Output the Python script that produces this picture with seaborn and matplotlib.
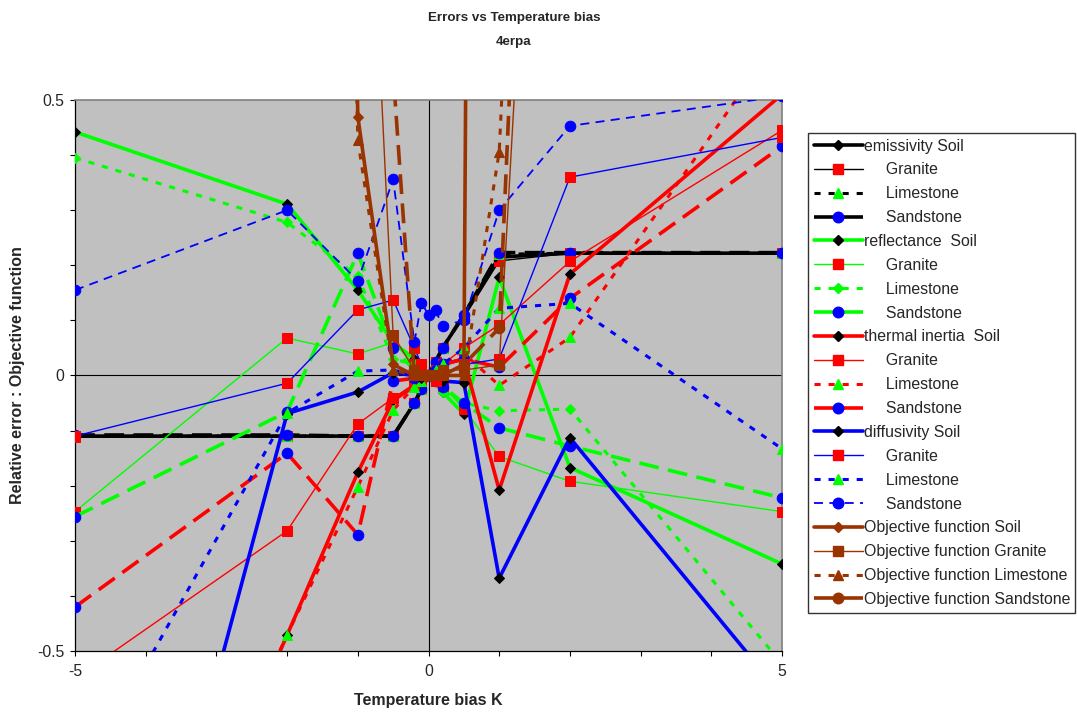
import matplotlib
matplotlib.use("Agg")
import matplotlib.pyplot as plt
import seaborn as sns
import pandas as pd
from matplotlib.lines import Line2D
from matplotlib.ticker import MultipleLocator, FixedLocator

sns.set_style("white")
plt.rcParams["font.family"] = ["Liberation Sans", "DejaVu Sans"]

# Temperature bias (K) at which every sensitivity run was evaluated
bias = [-5, -2, -1, -0.5, -0.2, -0.1, 0, 0.1, 0.2, 0.5, 1, 2, 5]

# Relative errors of the retrieved parameters
emissivity_soil = [-0.11, -0.11, -0.11, -0.11, -0.05, -0.025, 0.0, 0.025, 0.05, 0.11, 0.215, 0.222, 0.222]
emissivity_granite = [-0.112, -0.11, -0.11, -0.11, -0.05, -0.025, 0.0, 0.025, 0.05, 0.105, 0.208, 0.222, 0.222]
emissivity_limestone = [-0.11, -0.11, -0.11, -0.11, -0.05, -0.025, 0.0, 0.025, 0.05, 0.11, 0.22, 0.222, 0.222]
emissivity_sandstone = [-0.108, -0.108, -0.11, -0.11, -0.05, -0.025, 0.0, 0.025, 0.05, 0.11, 0.223, 0.223, 0.223]

reflectance_soil = [0.442, 0.311, 0.155, 0.06, 0.03, 0.01, 0.0, -0.01, -0.03, -0.07, 0.178, -0.167, -0.342]
reflectance_granite = [-0.247, 0.068, 0.039, 0.06, 0.02, 0.01, 0.0, -0.01, -0.02, -0.06, -0.147, -0.192, -0.247]
reflectance_limestone = [0.395, 0.278, 0.18, 0.03, 0.02, 0.01, 0.0, -0.01, -0.03, -0.05, -0.064, -0.061, -0.523]
reflectance_sandstone = [-0.256, -0.066, 0.222, 0.05, 0.01, 0.005, 0.0, -0.01, -0.02, -0.05, -0.095, -0.128, -0.222]

inertia_soil = [-1.36, -0.471, -0.176, -0.045, -0.02, -0.01, 0.0, 0.01, 0.02, 0.03, -0.208, 0.184, 0.51]
inertia_granite = [-0.55, -0.282, -0.088, -0.041, -0.015, -0.005, 0.0, 0.01, 0.02, 0.05, 0.092, 0.207, 0.445]
inertia_limestone = [-1.3, -0.471, -0.202, -0.063, -0.02, -0.01, 0.0, 0.01, 0.02, 0.04, -0.018, 0.069, 0.62]
inertia_sandstone = [-0.42, -0.141, -0.289, -0.01, -0.005, 0.0, 0.0, 0.01, 0.02, 0.03, 0.015, 0.14, 0.416]

diffusivity_soil = [-1.51, -0.069, -0.03, 0.005, 0.0, -0.005, 0.0, -0.005, -0.01, -0.013, -0.368, -0.113, -0.58]
diffusivity_granite = [-0.11, -0.014, 0.119, 0.137, 0.05, 0.02, 0.0, -0.01, 0.0, 0.02, 0.03, 0.36, 0.432]
diffusivity_limestone = [-0.755, -0.068, 0.008, 0.01, 0.0, 0.0, 0.0, 0.01, 0.02, 0.05, 0.122, 0.131, -0.133]
diffusivity_sandstone = [0.155, 0.3, 0.172, 0.356, 0.06, 0.132, 0.11, 0.118, 0.09, 0.1, 0.3, 0.453, 0.507]

# Objective function values (many leave the visible range)
objective_soil = [30.0, 8.0, 0.47, 0.02, 0.0, 0.0, 0.0, 0.0, 0.0, 0.0, 10.0, 20.0, 50.0]
objective_granite = [20.0, 5.0, 1.4, 0.073, 0.01, 0.0, 0.0, 0.0, 0.01, 0.01, 0.019, 2.3, 20.0]
objective_limestone = [20.0, 6.0, 0.427, 0.01, 0.0, 0.0, 0.0, 0.0, 0.0, 0.0, 0.406, 3.1, 30.0]
objective_sandstone = [20.0, 6.0, 3.0, 0.55, 0.0, 0.0, 0.0, 0.0, 0.0, 0.02, 0.086, 3.0, 30.0]

BLACK, GREEN, RED, BLUE, BROWN = "#000000", "#00FF00", "#FF0000", "#0000FF", "#993300"

THICK = dict(lw=2.6, ls="-")
THIN = dict(lw=1.0, ls="-")
SHORT = dict(lw=2.2, ls=(0, (2.0, 2.6)))
LONG = dict(lw=2.6, ls=(0, (5.5, 2.6)))
THIN_DASH = dict(lw=1.3, ls=(0, (5.0, 3.5)))

DIAMOND = dict(marker="D", ms=4.6, mfc=BLACK, mec=BLACK)
SQUARE = dict(marker="s", ms=6.8, mfc=RED, mec=RED)
TRIANGLE = dict(marker="^", ms=7.2, mfc=GREEN, mec=GREEN)
CIRCLE = dict(marker="o", ms=7.6, mfc=BLUE, mec=BLUE)
GREEN_DIAMOND = dict(marker="D", ms=5.2, mfc=GREEN, mec=GREEN)

INDENT = "     "
series = [
    ("emissivity Soil", emissivity_soil, BLACK, THICK, DIAMOND),
    (INDENT + "Granite", emissivity_granite, BLACK, THIN, SQUARE),
    (INDENT + "Limestone", emissivity_limestone, BLACK, SHORT, TRIANGLE),
    (INDENT + "Sandstone", emissivity_sandstone, BLACK, LONG, CIRCLE),
    ("reflectance  Soil", reflectance_soil, GREEN, THICK, DIAMOND),
    (INDENT + "Granite", reflectance_granite, GREEN, THIN, SQUARE),
    (INDENT + "Limestone", reflectance_limestone, GREEN, SHORT, GREEN_DIAMOND),
    (INDENT + "Sandstone", reflectance_sandstone, GREEN, LONG, CIRCLE),
    ("thermal inertia  Soil", inertia_soil, RED, THICK, DIAMOND),
    (INDENT + "Granite", inertia_granite, RED, THIN, SQUARE),
    (INDENT + "Limestone", inertia_limestone, RED, SHORT, TRIANGLE),
    (INDENT + "Sandstone", inertia_sandstone, RED, LONG, CIRCLE),
    ("diffusivity Soil", diffusivity_soil, BLUE, THICK, DIAMOND),
    (INDENT + "Granite", diffusivity_granite, BLUE, THIN, SQUARE),
    (INDENT + "Limestone", diffusivity_limestone, BLUE, SHORT, TRIANGLE),
    (INDENT + "Sandstone", diffusivity_sandstone, BLUE, THIN_DASH, CIRCLE),
    ("Objective function Soil", objective_soil, BROWN, THICK,
     dict(marker="D", ms=4.6, mfc=BROWN, mec=BROWN)),
    ("Objective function Granite", objective_granite, BROWN, THIN,
     dict(marker="s", ms=6.8, mfc=BROWN, mec=BROWN)),
    ("Objective function Limestone", objective_limestone, BROWN, SHORT,
     dict(marker="^", ms=7.2, mfc=BROWN, mec=BROWN)),
    ("Objective function Sandstone", objective_sandstone, BROWN, LONG,
     dict(marker="o", ms=7.6, mfc=BROWN, mec=BROWN)),
]

W, H = 1077, 713
fig = plt.figure(figsize=(W / 100, H / 100), dpi=100)
ax = fig.add_axes([75 / W, 1 - 651 / H, (782 - 75) / W, (651 - 100) / H])
ax.set_facecolor("#C0C0C0")

ax.axhline(0, color="black", lw=0.8, zorder=1)
ax.axvline(0, color="black", lw=0.8, zorder=1)

handles, labels = [], []
for i, (label, values, color, line, mark) in enumerate(series):
    df = pd.DataFrame({"bias": bias, "value": values})
    sns.lineplot(data=df, x="bias", y="value", ax=ax, color=color,
                 linewidth=line["lw"], linestyle=line["ls"], errorbar=None,
                 sort=False, legend=False, zorder=2 + i, **mark)
    handles.append(Line2D([], [], color=color, lw=line["lw"], ls=line["ls"], **mark))
    labels.append(label)

ax.set_xlim(-5, 5)
ax.set_ylim(-0.5, 0.5)
ax.xaxis.set_major_locator(FixedLocator([-5, 0, 5]))
ax.xaxis.set_minor_locator(MultipleLocator(1))
ax.yaxis.set_major_locator(FixedLocator([-0.5, 0, 0.5]))
ax.yaxis.set_minor_locator(MultipleLocator(0.1))
ax.set_xticklabels(["-5", "0", "5"])
ax.set_yticklabels(["-0.5", "0", "0.5"])
ax.tick_params(axis="both", which="both", direction="out", length=3.6, width=0.8,
               color="black", labelsize=11.3, bottom=True, left=True)
ax.tick_params(axis="x", which="major", pad=6)
ax.tick_params(axis="y", which="major", pad=4.3)
ax.set_xlabel("")
ax.set_ylabel("")

for side in ("left", "bottom"):
    ax.spines[side].set_color("black")
    ax.spines[side].set_linewidth(0.9)
for side in ("top", "right"):
    ax.spines[side].set_color("#808080")
    ax.spines[side].set_linewidth(1.2)

fig.text(428.5 / W, 1 - 700 / H, "Temperature bias K", ha="center", va="center",
         fontsize=11.5, fontweight="bold")
fig.text(18 / W, 1 - 375.5 / H, "Relative error : Objective function", ha="center", va="center",
         rotation=90, fontsize=11.5, fontweight="bold")

fig.text(514 / W, 1 - 18 / H, "Errors vs Temperature bias", ha="center", va="center",
         fontsize=9.6, fontweight="bold")
fig.text(514 / W, 1 - 42 / H, "4erpa", ha="center", va="center",
         fontsize=9.6, fontweight="bold")

leg = fig.legend(handles, labels, loc="upper left", bbox_to_anchor=(808 / W, 1 - 133 / H),
                 frameon=True, fancybox=False, edgecolor="black", fontsize=11.4,
                 borderpad=0.35, labelspacing=0.56, handlelength=3.1, handletextpad=0.06,
                 borderaxespad=0, numpoints=1)
leg.get_frame().set_linewidth(1.0)

fig.savefig("out.png", dpi=100, facecolor="white")
